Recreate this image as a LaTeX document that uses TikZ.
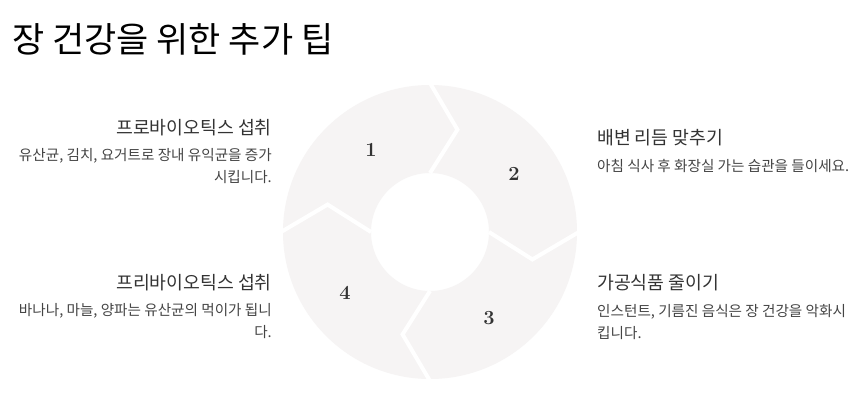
\documentclass[tikz,border=0pt]{standalone}
\usepackage{fontspec}
\newfontfamily\kr{Noto Sans CJK KR}
\definecolor{ringgray}{HTML}{F6F4F4}
\definecolor{headc}{HTML}{333333}
\definecolor{bodyc}{HTML}{444444}
\begin{document}
\begin{tikzpicture}[x=1pt,y=-1pt,
  head/.style={font=\kr\fontsize{18.3}{20}\selectfont, text=headc, inner sep=0},
  body/.style={font=\kr\fontsize{14.6}{22}\selectfont, text=bodyc, inner sep=0},
  num/.style={font=\fontsize{20}{20}\selectfont\bfseries, text=headc, inner sep=0},
  sep/.style={white, line width=4pt, line join=miter}]
\useasboundingbox (0,0) rectangle (860,415);
\fill[white] (0,0) rectangle (860,415);
\node[anchor=base west, inner sep=0, font=\kr\fontsize{35}{38}\selectfont, text=black] (title) at (12,52) {장 건강을 위한 추가 팁};
\coordinate (c) at (430,232);
\fill[ringgray, even odd rule] (c) circle[radius=147] (c) circle[radius=59];
\foreach \a in {90,0,-90,180}{
  \draw[sep] ([shift={(\a:149)}]c) -- ([shift={(\a+15:106)}]c) -- ([shift={(\a:59)}]c);
}
\node[num] (n1) at (371,150) {1};
\node[num] (n2) at (514,174) {2};
\node[num] (n3) at (489,318) {3};
\node[num] (n4) at (345,293) {4};
\node[head, anchor=east] (h1) at (272,128) {프로바이오틱스 섭취};
\node[body, anchor=north east, align=right] (b1) at (272,148) {유산균, 김치, 요거트로 장내 유익균을 증가\\시킵니다.};
\node[head, anchor=east] (h4) at (272,283) {프리바이오틱스 섭취};
\node[body, anchor=north east, align=right] (b4) at (272,303) {바나나, 마늘, 양파는 유산균의 먹이가 됩니\\다.};
\node[head, anchor=west] (h2) at (597,138) {배변 리듬 맞추기};
\node[body, anchor=west] (b2) at (597,166) {아침 식사 후 화장실 가는 습관을 들이세요.};
\node[head, anchor=west] (h3) at (597,283) {가공식품 줄이기};
\node[body, anchor=north west, align=left] (b3) at (597,304) {인스턴트, 기름진 음식은 장 건강을 악화시\\킵니다.};
\end{tikzpicture}
\end{document}
